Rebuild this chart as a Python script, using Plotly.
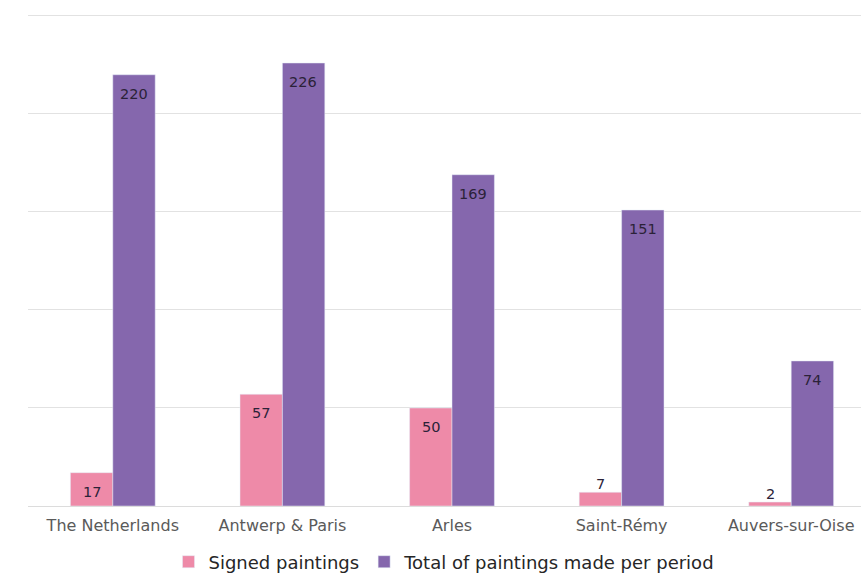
import plotly.graph_objects as go

categories = ["The Netherlands", "Antwerp & Paris", "Arles", "Saint-Rémy", "Auvers-sur-Oise"]
signed = [17, 57, 50, 7, 2]
total = [220, 226, 169, 151, 74]
series_names = ["Signed paintings", "Total of paintings made per period"]

PINK = "#ee8aa8"
PURPLE = "#8567ad"
LABEL = "#2b2238"
FONT = "'DejaVu Sans', sans-serif"

fig = go.Figure()
fig.add_trace(go.Bar(x=categories, y=signed, name=series_names[0], marker_color=PINK))
fig.add_trace(go.Bar(x=categories, y=total, name=series_names[1], marker_color=PURPLE))

# value labels
for vals, shift in ((signed, -21), (total, 21)):
    for c, v in zip(categories, vals):
        inside = v > 15
        fig.add_annotation(
            x=c, y=v, text=str(v), showarrow=False, xshift=shift,
            yshift=-19 if inside else 8,
            font=dict(family=FONT, size=14.5, color=LABEL),
        )

n = len(categories)
fig.update_layout(
    width=861, height=574,
    margin=dict(l=28, r=0, t=14, b=68, autoexpand=False),
    paper_bgcolor="white", plot_bgcolor="white",
    barmode="group", bargap=0.5, bargroupgap=0,
    font=dict(family=FONT),
    showlegend=True,
    legend=dict(orientation="h", x=0.5, xanchor="center", yref="container",
                y=12 / 574, yanchor="middle",
                font=dict(family=FONT, size=18, color="#262626"),
                itemwidth=30, traceorder="normal"),
)
fig.update_xaxes(range=[-0.5, n - 0.5 - 15 / 169.5], showgrid=False, showline=False,
                 ticks="", ticklabelstandoff=8,
                 tickfont=dict(family=FONT, size=16, color="#5a5a5a"))
fig.update_yaxes(range=[0, 251], dtick=50, showticklabels=False, gridcolor="#e2e2e2",
                 gridwidth=1, zeroline=True, zerolinecolor="#dcdcdc", zerolinewidth=1)

fig.write_html("out.html")
